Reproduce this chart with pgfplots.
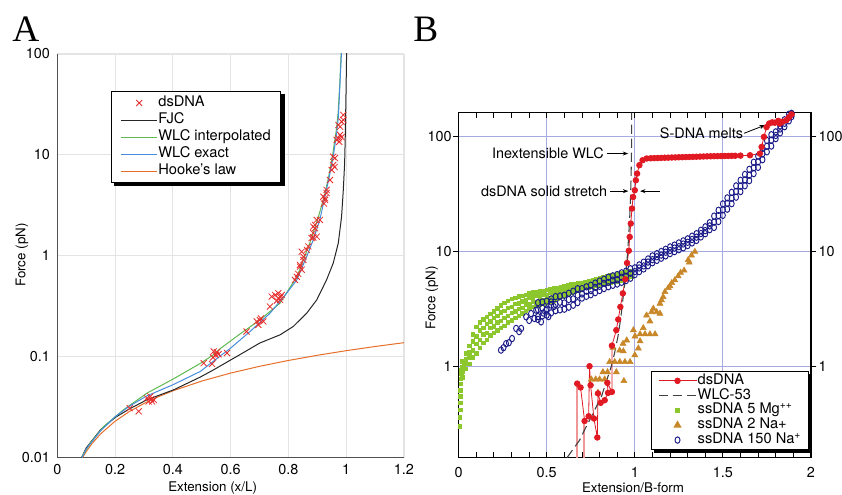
\documentclass[border=0pt]{standalone}
\usepackage{fontspec}
\setmainfont{TeX Gyre Heros}
\newfontfamily\panelfont{Liberation Serif}
\usepackage{pgfplots}
\usepackage{pgfplotstable}
\pgfplotsset{compat=1.18}
\usetikzlibrary{arrows.meta}

\definecolor{aGrid}{RGB}{228,228,228}
\definecolor{aAxis}{RGB}{80,80,80}
\definecolor{aRed}{RGB}{230,45,45}
\definecolor{aGreen}{RGB}{95,185,80}
\definecolor{aBlue}{RGB}{70,140,220}
\definecolor{aOrange}{RGB}{230,110,40}
\definecolor{bGrid}{RGB}{165,170,225}
\definecolor{bRed}{RGB}{225,25,35}
\definecolor{bPink}{RGB}{240,150,150}
\definecolor{bGreen}{RGB}{140,200,45}
\definecolor{bOrange}{RGB}{200,135,40}
\definecolor{bNavy}{RGB}{25,25,135}
\newcommand{\tf}{\fontsize{10.8}{12}\selectfont}
\newcommand{\lf}{\fontsize{11}{12}\selectfont}

\begin{document}

% panel A: dsDNA crosses
\pgfplotstableread{
x F
0.2505 0.031
0.2817 0.0288
0.3105 0.039
0.316 0.0361
0.322 0.0405
0.328 0.0361
0.334 0.0374
0.325 0.038
0.5067 0.0865
0.5355 0.085
0.539 0.0985
0.5413 0.113
0.5528 0.111
0.558 0.106
0.5875 0.109
0.548 0.104
0.655 0.178
0.690 0.224
0.696 0.207
0.701 0.231
0.713 0.224
0.705 0.240
0.736 0.315
0.742 0.395
0.754 0.41
0.765 0.38
0.765 0.427
0.771 0.366
0.777 0.41
0.772 0.39
0.760 0.36
0.8225 0.578
0.829 0.62
0.834 0.664
0.840 0.783
0.846 0.73
0.840 0.815
0.852 0.912
0.852 0.98
0.846 1.10
0.864 1.15
0.869 1.24
0.880 1.50
0.886 1.52
0.886 1.68
0.892 1.88
0.898 1.55
0.886 1.95
0.892 2.03
0.898 2.27
0.909 2.27
0.921 3.86
0.923 3.30
0.927 3.58
0.927 3.72
0.932 4.20
0.932 4.50
0.944 5.65
0.950 7.10
0.955 7.95
0.955 9.60
0.961 9.30
0.960 7.6
0.967 14.1
0.973 14.6
0.976 13.5
0.979 15.8
0.984 15.0
0.973 19.8
0.979 19.0
0.984 21.4
0.990 22.2
0.990 24.9
}\dsA

% panel B: dsDNA
\pgfplotstableread{
x F
0.673 0.706
0.692 0.653
0.715 0.334
0.738 0.367
0.743 1.00
0.749 0.684
0.768 0.351
0.787 0.240
0.791 0.580
0.806 0.480
0.829 0.506
0.848 0.586
0.844 0.717
0.870 0.598
0.870 1.51
0.895 2.06
0.906 2.55
0.918 3.28
0.932 4.30
0.946 5.70
0.956 7.90
0.966 10.1
0.971 13.3
0.977 17.4
0.984 23.5
0.990 29.6
1.000 33.9
1.006 41.4
1.013 47.3
1.026 56.0
1.044 61.8
1.067 64.0
1.09 64.3
1.11 64.5
1.13 64.6
1.15 64.8
1.17 65.0
1.19 65.1
1.21 65.3
1.23 65.4
1.25 65.6
1.27 65.7
1.29 65.9
1.31 66.0
1.33 66.2
1.35 66.3
1.37 66.5
1.39 66.6
1.41 66.8
1.43 66.9
1.45 67.0
1.47 67.1
1.49 67.2
1.51 67.3
1.53 67.4
1.55 67.5
1.57 67.6
1.60 67.8
1.654 68.3
1.710 70.6
1.720 80.7
1.733 98.6
1.748 120
1.763 129
1.780 132
1.795 131
1.814 136
1.823 129
1.840 134
1.861 138
1.875 146
1.890 155
}\dsB

\pgfplotstableread{
x a b c d
0.02 0.80 0.90 0.98 1.10
0.04 0.95 1.06 1.16 1.30
0.06 1.05 1.20 1.32 1.50
0.08 1.20 1.38 1.65 1.90
0.10 1.30 1.57 1.83 2.20
0.12 1.45 1.70 2.05 2.40
0.14 1.60 1.90 2.16 2.55
0.16 1.70 1.96 2.33 2.70
0.18 1.85 2.16 2.45 2.85
0.20 1.95 2.22 2.63 3.00
0.22 2.05 2.40 2.74 3.20
0.24 2.15 2.48 2.95 3.40
0.26 2.25 2.65 3.02 3.55
0.28 2.40 2.74 3.23 3.70
0.30 2.50 2.92 3.30 3.85
0.32 2.65 3.00 3.49 3.95
0.34 2.75 3.16 3.53 4.05
0.36 2.90 3.22 3.68 4.10
0.38 3.05 3.42 3.74 4.20
0.40 3.20 3.50 3.93 4.30
0.42 3.30 3.66 3.97 4.40
0.44 3.35 3.65 4.08 4.45
0.46 3.45 3.80 4.10 4.50
0.48 3.50 3.79 4.20 4.55
0.50 3.55 3.90 4.20 4.60
0.52 3.65 3.95 4.35 4.70
0.54 3.75 4.09 4.37 4.75
0.56 3.85 4.12 4.49 4.80
0.58 4.00 4.31 4.56 4.90
0.60 4.10 4.36 4.71 5.00
0.62 4.20 4.50 4.73 5.05
0.64 4.35 4.58 4.90 5.15
0.66 4.45 4.72 4.92 5.20
0.68 4.55 4.75 5.04 5.25
0.70 4.70 4.92 5.07 5.30
0.72 4.80 4.99 5.25 5.45
0.74 4.85 5.10 5.29 5.55
0.76 4.95 5.15 5.44 5.65
0.78 5.05 5.31 5.49 5.75
0.80 5.10 5.32 5.62 5.85
0.82 5.20 5.47 5.67 5.95
0.84 5.25 5.48 5.80 6.05
0.86 5.35 5.63 5.85 6.15
0.88 5.45 5.69 6.00 6.25
0.90 5.50 5.80 6.03 6.35
0.92 5.60 5.85 6.18 6.45
0.94 5.70 6.00 6.23 6.55
0.96 5.85 6.07 6.37 6.60
0.98 6.00 6.26 6.44 6.70
}\mgB

\pgfplotstableread{
x lo mid hi
0.45 2.70 3.10 3.57
0.475 2.74 3.20 3.62
0.50 2.78 3.15 3.68
0.525 2.91 3.40 3.85
0.55 3.04 3.45 4.03
0.575 3.09 3.60 4.08
0.60 3.13 3.55 4.14
0.625 3.26 3.80 4.31
0.65 3.39 3.85 4.49
0.675 3.57 4.15 4.72
0.70 3.91 4.25 4.73
0.725 4.05 4.50 4.90
0.75 4.18 4.55 5.06
0.775 4.36 4.85 5.28
0.80 4.55 4.95 5.50
0.825 4.73 5.25 5.72
0.85 4.91 5.35 5.94
0.875 5.05 5.60 6.11
0.90 5.18 5.65 6.27
0.925 5.36 5.95 6.49
0.95 5.55 6.05 6.71
0.975 5.82 6.45 7.04
1.00 6.26 6.65 7.17
1.025 6.64 7.15 7.60
1.05 7.01 7.45 8.03
1.075 7.48 8.05 8.56
1.10 7.94 8.45 9.10
1.125 8.32 8.95 9.52
1.15 8.69 9.25 9.95
1.175 9.11 9.80 10.4
1.20 9.53 10.15 10.9
1.225 9.91 10.65 11.3
1.25 10.3 10.95 11.8
1.275 10.7 11.55 12.3
1.30 11.2 11.95 12.8
1.325 11.8 12.65 13.5
1.35 12.4 13.25 14.2
1.375 13.3 14.25 15.2
1.40 14.2 15.1 16.3
1.425 15.4 16.6 17.7
1.45 16.1 17.9 20.2
1.475 18.1 20.4 22.7
1.50 20.5 22.9 25.8
1.525 23.2 26.1 29.1
1.55 25.9 28.9 32.5
1.575 29.5 33.1 37.0
1.60 33.0 36.8 41.4
1.625 37.1 41.7 46.5
1.65 41.1 45.8 51.5
1.675 47.3 53.2 59.4
1.70 53.6 59.8 67.2
1.725 62.5 70.3 78.4
1.75 73.2 81.8 91.8
1.775 82.1 92.3 103
1.80 95.3 101.5 109
1.825 107 115.5 123
1.85 121 129.5 139
1.875 136 145.5 155
1.89 148 155 158
}\naB

\begin{tikzpicture}
\useasboundingbox (0,0) rectangle (631.5pt,-371.25pt);
\node[anchor=base west,inner sep=0] at (9pt,-31.3pt) {\panelfont\fontsize{28}{30}\selectfont A};
\node[anchor=base west,inner sep=0] at (309.75pt,-31.3pt) {\panelfont\fontsize{28}{30}\selectfont B};

% ---------------- panel A
\begin{axis}[at={(42.98pt,-343.3pt)}, anchor=south west, scale only axis,
  width=260pt, height=302.8pt,
  xmin=0, xmax=1.2, ymode=log, ymin=0.01, ymax=100,
  axis x line*=bottom, axis y line*=left,
  axis line style={draw=aAxis, line width=1pt},
  xtick={0,0.2,0.4,0.6,0.8,1,1.2}, xticklabels={0,0.2,0.4,0.6,0.8,1,1.2},
  ytick={0.01,0.1,1,10,100}, yticklabels={0.01,0.1,1,10,100},
  yminorticks=false, major tick length=0pt,
  grid=major, major grid style={draw=aGrid, line width=0.8pt},
  tick label style={font=\tf},
  xticklabel style={yshift=-1.5pt}, yticklabel style={xshift=-2pt},
  xlabel={Extension (x/L)}, ylabel={Force (pN)},
  label style={font=\tf},
  every axis x label/.style={at={(axis description cs:0.448,-0.075)}, anchor=center},
  every axis y label/.style={at={(axis description cs:-0.102,0.502)}, anchor=center, rotate=90},
  legend style={name=legA, at={(0.154,0.908)}, anchor=north west, draw=black, line width=1pt, fill=white,
    font=\lf, inner xsep=7pt, inner ysep=2pt, row sep=0pt,
    nodes={inner sep=0.5pt, text height=8.2pt, text depth=3.6pt},
    /tikz/every even column/.append style={column sep=3pt}},
  legend cell align=left,
  legend image code/.code={\draw[mark repeat=2,mark phase=2,#1] plot coordinates {(0pt,0pt) (13.5pt,0pt) (27pt,0pt)};},
]
\addplot[aOrange, line width=0.75pt, forget plot] coordinates {
 (0.087,0.0100) (0.1,0.0115) (0.12,0.0138) (0.15,0.01725) (0.2,0.023) (0.25,0.02875)
 (0.3,0.0345) (0.35,0.04025) (0.4,0.046) (0.5,0.0575) (0.6,0.069) (0.7,0.0805)
 (0.8,0.092) (0.9,0.1035) (1.0,0.115) (1.1,0.1265) (1.2,0.138)};
\addplot[black!85, line width=0.75pt, forget plot] coordinates {
 (0.084,0.01) (0.10,0.0125) (0.15,0.019) (0.2,0.025) (0.25,0.0305) (0.31,0.0375)
 (0.403,0.0471) (0.495,0.063) (0.541,0.0743) (0.60,0.093) (0.632,0.105) (0.701,0.137)
 (0.771,0.165) (0.817,0.20) (0.863,0.27) (0.898,0.366) (0.932,0.578) (0.9553,0.85)
 (0.9727,1.34) (0.984,2.45) (0.990,4.5) (0.9946,8.3) (0.997,16.4) (0.999,35) (1.0016,110)};
\addplot[aGreen, line width=0.75pt, forget plot] coordinates {
 (0.085,0.0102) (0.1143,0.014) (0.1605,0.0204) (0.23,0.030) (0.31,0.0436) (0.40,0.060)
 (0.495,0.086) (0.541,0.105) (0.563,0.12) (0.632,0.168) (0.701,0.232) (0.771,0.34)
 (0.80,0.46) (0.829,0.62) (0.852,0.91) (0.88,1.5) (0.905,2.5) (0.925,4) (0.94,6.2)
 (0.953,10) (0.965,17) (0.972,26) (0.978,52) (0.983,110)};
\addplot[aBlue, line width=0.75pt, forget plot] coordinates {
 (0.085,0.0100) (0.10,0.0122) (0.15,0.0185) (0.20,0.0255) (0.25,0.0325) (0.31,0.041)
 (0.40,0.0528) (0.495,0.0716) (0.535,0.088) (0.60,0.122) (0.667,0.178) (0.736,0.27)
 (0.794,0.427) (0.829,0.578) (0.863,0.98) (0.886,1.44) (0.909,2.3) (0.925,3.7)
 (0.94,5.8) (0.955,9.6) (0.967,16.4) (0.973,24) (0.9785,51) (0.984,109)};
\addplot[only marks, mark=x, mark size=3.2pt, aRed, mark options={line width=0.6pt}, forget plot]
  table[x=x,y=F] {\dsA};

\addlegendimage{only marks, mark=x, mark size=3.2pt, aRed, mark options={line width=0.6pt}}
\addlegendentry{dsDNA}
\addlegendimage{black!85, line width=0.75pt}
\addlegendentry{FJC}
\addlegendimage{aGreen, line width=0.75pt}
\addlegendentry{WLC interpolated}
\addlegendimage{aBlue, line width=0.75pt}
\addlegendentry{WLC exact}
\addlegendimage{aOrange, line width=0.75pt}
\addlegendentry{Hooke's law}
\end{axis}
% legend shadow
\fill[black] ([xshift=2.4pt]legA.south west) rectangle ([xshift=2.4pt,yshift=-2.4pt]legA.south east);
\fill[black] ([yshift=-2.4pt]legA.north east) rectangle ([xshift=2.4pt]legA.south east);

% ---------------- panel B
\begin{axis}[at={(344pt,-343.3pt)}, anchor=south west, scale only axis,
  width=264.2pt, height=258.75pt,
  xmin=0, xmax=2, ymode=log, ymin=0.16, ymax=160,
  xtick={0,0.5,1,1.5,2}, xticklabels={0,0.5,1,1.5,2}, minor x tick num=4,
  ytick={1,10,100}, yticklabels={}, yminorticks=false, ytick style={draw=none},
  tick align=inside, major tick length=4pt, minor tick length=4pt,
  tick style={black, line width=0.6pt},
  axis line style={line width=0.9pt},
  grid=major, major grid style={draw=bGrid, line width=0.8pt},
  tick label style={font=\tf},
  xticklabel style={yshift=-4pt},
  xlabel={Extension/B-form}, ylabel={Force (pN)},
  label style={font=\tf},
  every axis x label/.style={at={(axis description cs:0.495,-0.088)}, anchor=center},
  every axis y label/.style={at={(axis description cs:-0.076,0.463)}, anchor=center, rotate=90},
  legend style={name=legB, at={(0.545,0.252)}, anchor=north west, draw=black, line width=1pt, fill=white,
    font=\lf, inner xsep=5pt, inner ysep=1.5pt, row sep=0pt,
    nodes={inner sep=0.5pt, text height=7.6pt, text depth=2.5pt},
    /tikz/every even column/.append style={column sep=1.5pt}},
  legend cell align=left,
  legend image code/.code={\draw[mark repeat=2,mark phase=2,#1] plot coordinates {(0pt,0pt) (14.25pt,0pt) (28.5pt,0pt)};},
]
% ssDNA 5 Mg
\addplot[only marks, mark=square*, mark size=1.3pt, bGreen, forget plot] coordinates {
 (0.005,0.30) (0.005,0.36) (0.008,0.42) (0.008,0.48) (0.01,0.55) (0.01,0.62)
 (0.012,0.70) (0.012,0.78) (0.015,0.86) (0.015,0.93) (0.025,0.97) (0.03,1.0)};
\addplot[only marks, mark=square*, mark size=1.3pt, bGreen, forget plot] table[x=x,y=a] {\mgB};
\addplot[only marks, mark=square*, mark size=1.3pt, bGreen, forget plot] table[x=x,y=b] {\mgB};
\addplot[only marks, mark=square*, mark size=1.3pt, bGreen, forget plot] table[x=x,y=c] {\mgB};
\addplot[only marks, mark=square*, mark size=1.3pt, bGreen, forget plot] table[x=x,y=d] {\mgB};
% ssDNA 150 Na
\addplot[only marks, mark=o, mark size=2.4pt, bNavy, mark options={xscale=0.78, line width=0.7pt}, forget plot] coordinates {
 (0.240,1.38) (0.255,1.45) (0.269,1.57) (0.285,1.60) (0.303,1.74) (0.326,2.13) (0.343,2.00)
 (0.355,2.13) (0.383,2.69) (0.400,2.50) (0.411,2.87) (0.430,2.60) (0.440,3.07) (0.450,2.55)
 (0.468,2.43) (0.480,2.90) (0.496,3.07) (0.510,2.70) (0.525,3.62) (0.540,3.30)};
\addplot[only marks, mark=o, mark size=2.4pt, bNavy, mark options={xscale=0.78, line width=0.7pt}, forget plot] table[x=x,y=lo] {\naB};
\addplot[only marks, mark=o, mark size=2.4pt, bNavy, mark options={xscale=0.78, line width=0.7pt}, forget plot] table[x=x,y=mid] {\naB};
\addplot[only marks, mark=o, mark size=2.4pt, bNavy, mark options={xscale=0.78, line width=0.7pt}, forget plot] table[x=x,y=hi] {\naB};
% ssDNA 2 Na
\addplot[only marks, mark=triangle*, mark size=2.6pt, bOrange, forget plot] coordinates {
 (0.753,0.77) (0.778,0.77) (0.800,0.77) (0.829,0.77) (0.791,0.59) (0.819,0.89) (0.845,0.89)
 (0.895,0.89) (0.938,0.745) (0.857,1.09) (0.886,1.09) (0.915,1.09) (0.944,1.09) (0.973,1.09)
 (0.875,1.45) (0.914,1.37) (0.935,1.35) (0.933,1.57) (0.954,1.68) (0.992,2.06) (1.001,1.82)
 (1.000,1.25) (1.02,1.43) (1.03,1.65) (1.03,1.90) (1.058,1.90) (1.086,1.90) (1.115,1.90)
 (1.048,2.15) (1.067,2.77) (1.086,2.46) (1.095,2.96) (1.105,3.17) (1.124,2.96) (1.143,2.87)
 (1.143,3.50) (1.152,3.75) (1.161,4.00) (1.171,4.43) (1.19,4.80) (1.20,4.97) (1.21,5.30)
 (1.227,5.60) (1.246,6.07) (1.26,6.50) (1.28,6.80) (1.303,8.40) (1.309,8.00) (1.322,9.20)
 (1.341,9.90)};
% dsDNA
\addplot[bPink, line width=1.1pt, forget plot] coordinates {(0.673,0.16) (0.673,0.706)};
\addplot[bPink, line width=1.1pt, forget plot] coordinates {(0.711,0.16) (0.711,0.334)};
\addplot[bRed, line width=0.6pt, mark=*, mark size=2.1pt, mark options={fill=bRed, draw=bRed}, forget plot]
  table[x=x,y=F] {\dsB};
% WLC-53
\addplot[black!75, line width=0.8pt, dash pattern=on 7pt off 3.5pt, forget plot] coordinates {
 (0.615,0.16) (0.65,0.19) (0.687,0.228) (0.72,0.29) (0.753,0.362) (0.78,0.44) (0.81,0.541)
 (0.84,0.75) (0.866,0.99) (0.885,1.3) (0.904,1.8) (0.92,2.6) (0.934,4.0) (0.945,5.5)
 (0.955,8) (0.963,12) (0.97,18) (0.976,30) (0.979,45) (0.981,70) (0.982,100) (0.982,160)};

\addlegendimage{bRed, line width=0.6pt, mark=*, mark size=2.1pt, mark options={fill=bRed, draw=bRed}}
\addlegendentry{dsDNA}
\addlegendimage{black!75, line width=0.8pt, dash pattern=on 7pt off 3.5pt}
\addlegendentry{WLC-53}
\addlegendimage{only marks, mark=square*, mark size=1.3pt, bGreen}
\addlegendentry{ssDNA 5 Mg\textsuperscript{++}}
\addlegendimage{only marks, mark=triangle*, mark size=2.6pt, bOrange}
\addlegendentry{ssDNA 2 Na+}
\addlegendimage{only marks, mark=o, mark size=2.4pt, bNavy, mark options={xscale=0.78, line width=0.7pt}}
\addlegendentry{ssDNA 150 Na\textsuperscript{+}}

\node[anchor=east, font=\tf, inner sep=0pt] at (axis cs:0.825,70.7) {Inextensible WLC};
\draw[-{Stealth[length=4pt,width=3pt]}, line width=0.6pt] (axis cs:0.842,70.7) -- (axis cs:0.962,70.7);
\node[anchor=east, font=\tf, inner sep=0pt] at (axis cs:0.844,33.3) {dsDNA solid stretch};
\draw[-{Stealth[length=4pt,width=3pt]}, line width=0.6pt] (axis cs:0.86,33.3) -- (axis cs:0.963,33.3);
\draw[-{Stealth[length=4pt,width=3pt]}, line width=0.6pt] (axis cs:1.143,33.3) -- (axis cs:1.03,33.3);
\node[anchor=east, font=\tf, inner sep=0pt] at (axis cs:1.616,105.5) {S-DNA melts};
\draw[-{Stealth[length=4pt,width=3pt]}, line width=0.6pt] (axis cs:1.62,106) -- (axis cs:1.739,124.7);
\end{axis}
\fill[black] ([xshift=2.4pt]legB.south west) rectangle ([xshift=2.4pt,yshift=-2.4pt]legB.south east);
\fill[black] ([yshift=-2.4pt]legB.north east) rectangle ([xshift=2.4pt]legB.south east);

% panel B: y tick labels, left and right
\begin{axis}[at={(344pt,-343.3pt)}, anchor=south west, scale only axis,
  width=264.2pt, height=258.75pt,
  xmin=0, xmax=2, ymode=log, ymin=0.16, ymax=160,
  axis x line=none, axis y line*=left, axis line style={draw=none},
  ytick={1,10,100}, yticklabels={1,10,100}, yminorticks=false,
  tick align=outside, major tick length=4pt, tick style={black, line width=0.6pt},
  tick label style={font=\tf}, yticklabel style={inner xsep=1pt}]
\end{axis}
\begin{axis}[at={(344pt,-343.3pt)}, anchor=south west, scale only axis,
  width=264.2pt, height=258.75pt,
  xmin=0, xmax=2, ymode=log, ymin=0.16, ymax=160,
  axis x line=none, axis y line*=right, axis line style={draw=none},
  ytick={1,10,100}, yticklabels={1,10,100}, yminorticks=false,
  tick align=outside, major tick length=4pt, tick style={black, line width=0.6pt},
  tick label style={font=\tf}, yticklabel style={inner xsep=1.5pt}]
\end{axis}
\end{tikzpicture}
\end{document}
